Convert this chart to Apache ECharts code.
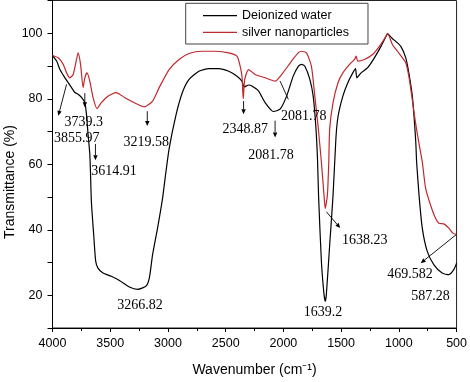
<!DOCTYPE html>
<html><head><meta charset="utf-8">
<script src="https://cdn.jsdelivr.net/npm/echarts@6/dist/echarts.min.js"></script>
<style>html,body{margin:0;padding:0;background:#fff}#c{width:470px;height:382px}</style>
</head><body><div id="c"></div>
<script>
const seriesNames = ['Deionized water', 'silver nanoparticles'];

const waterWave = [4000,3964,3936,3907,3864,3835,3806,3778,3749,3720,3706,3692,3677,3672,3663,3643,3626,3606,3563,3491,3420,3334,3262,3190,3161,3133,3090,3047,3025,2990,2932,2875,2817,2732,2646,2560,2473,2402,2359,2340,2300,2273,2216,2158,2087,2029,1972,1915,1871,1843,1814,1771,1742,1720,1705,1695,1671,1648,1637,1628,1599,1570,1545,1527,1485,1442,1399,1375,1364,1327,1270,1212,1155,1112,1098,1055,1026,983,940,911,882,854,846,825,797,754,696,625,567,524,500];
const waterT    = [93.2,91.5,88.9,87.2,84.9,83.4,81.9,81.4,80.4,78.8,75.3,69.2,63.2,58.6,48.5,38.4,30.4,28.3,26.8,25.8,24.5,22.5,21.8,22.8,25.3,32.4,40.5,49.5,55.6,64.7,74.8,81.9,85.9,88.4,89.2,89.2,88.4,86.9,85.4,83.6,84.2,83.9,82.4,78.8,76.1,76.8,80.8,86.9,89.9,90.5,89.9,85.9,80.8,72,62,50,30.4,20.2,18.2,20.2,35.4,50.5,68,74.5,80.8,84.9,87.9,89.2,86.4,87.9,89.5,92.5,96,99,99.8,98.3,97.5,96,92.5,87.4,80.4,67.2,60.7,50.5,40.5,33.4,29.3,26.8,26.3,27.8,29.8];

const silverWave = [4000,3950,3907,3878,3850,3821,3792,3778,3757,3735,3720,3701,3677,3649,3615,3577,3520,3448,3377,3291,3205,3133,3076,2990,2904,2817,2703,2588,2473,2402,2382,2359,2348,2335,2302,2244,2158,2072,2015,1929,1872,1843,1800,1757,1728,1700,1690,1671,1648,1638,1619,1607,1599,1570,1527,1485,1427,1384,1370,1356,1298,1227,1169,1112,1098,1055,1012,969,940,911,882,854,825,797,768,725,682,653,610,567,530,500];
const silverT    = [93.2,92.5,90.5,87.9,86.4,87.4,92,94,90.5,83.4,86.4,87.9,85.4,80.4,77,78.8,80.8,81.9,80.4,78.8,77.5,79.3,83.4,88.9,92,93.8,94.5,94.5,94,93,91,86.9,80,85.9,88.9,87.4,86.4,85.4,87.4,91.5,94,94.5,94,89.9,80.8,71.8,68,60.7,50.5,46.5,50.5,60.7,70.8,78.8,84.9,87.9,90.5,92,93,91.5,92,93.5,96,99,100,96.5,94.5,92.5,91,86.4,79.3,72.3,66.2,60.7,52.6,47.5,43.5,42,41.8,40.5,38.9,38.6];

const xTickLabels = [4000,3500,3000,2500,2000,1500,1000,500];
const yTickLabels = [20,40,60,80,100];

const peakLabels    = ['3739.3','3855.97','3614.91','3219.58','2348.87','2081.78','2081.78','1638.23','469.582','587.28','3266.82','1639.2'];
const peakLabelWave = [3729,3789,3467,3187,2331,1824,2108,1295,904,725,3243,1656];
const peakLabelT    = [72.9,68.0,57.8,66.8,70.7,74.6,62.7,36.9,26.3,19.8,16.8,14.7];

const arrowFromWave = [3878,3720,3628,3179,2345,2072,2029,1628,500];
const arrowFromT    = [84.4,81.7,66.2,76.2,79.3,73.3,85.4,45.5,38.6];
const arrowToWave   = [3950,3720,3628,3179,2345,2072,1957,1508,811];
const arrowToT      = [74.8,77.4,61.2,71.7,75.3,68.2,79.8,40.5,29.8];
const arrowHasHead  = [true,true,true,true,true,true,false,true,true];

const zip = (a, b) => a.map((v, i) => [v, b[i]]);
const sans = '"Liberation Sans", Arial, sans-serif';
const serif = '"Liberation Serif", "Times New Roman", serif';

const chart = echarts.init(document.getElementById('c'), null, {renderer: 'canvas'});
chart.setOption({
  animation: false,
  backgroundColor: '#fff',
  grid: {left: 52.5, right: 10.5, top: 0.5, bottom: 51.3, show: true, borderColor: '#222', borderWidth: 1, backgroundColor: 'transparent'},
  legend: {
    data: seriesNames, orient: 'vertical', left: 185.7, top: 3.3,
    icon: 'rect', itemWidth: 34, itemHeight: 1.3, itemGap: 2.6, itemTextGap: 3,
    padding: [5.4, 19, 4.7, 17.3], borderColor: '#444', borderWidth: 1,
    textStyle: {fontSize: 12.5, lineHeight: 14, color: '#000', fontFamily: sans}
  },
  xAxis: {
    type: 'value', inverse: true, min: 500, max: 4000, interval: 500,
    axisLine: {show: true, onZero: false, lineStyle: {color: '#000', width: 1}},
    axisTick: {show: true, inside: false, length: 4, lineStyle: {color: '#000'}},
    minorTick: {show: true, splitNumber: 2, length: 3, lineStyle: {color: '#000'}},
    splitLine: {show: false},
    axisLabel: {color: '#000', fontSize: 12.5, fontFamily: sans, margin: 9,
      formatter: v => xTickLabels.includes(v) ? String(v) : ''},
    name: 'Wavenumber (cm\u207B\u00B9)', nameLocation: 'middle', nameGap: 35,
    nameTextStyle: {color: '#000', fontSize: 14, fontFamily: sans}
  },
  yAxis: {
    type: 'value', min: 10, max: 110, interval: 10,
    axisLine: {show: true, onZero: false, lineStyle: {color: '#000', width: 1}},
    axisTick: {show: true, inside: false, length: 5, lineStyle: {color: '#000'}},
    splitLine: {show: false},
    axisLabel: {color: '#000', fontSize: 12.5, fontFamily: sans, margin: 10,
      formatter: v => yTickLabels.includes(v) ? String(v) : ''}
  },
  series: [
    {name: seriesNames[0], type: 'line', data: zip(waterWave, waterT), symbol: 'none', showSymbol: false,
     smooth: 0.2, lineStyle: {color: '#000', width: 1.2}, itemStyle: {color: '#000'}, z: 2},
    {name: seriesNames[1], type: 'line', data: zip(silverWave, silverT), symbol: 'none', showSymbol: false,
     smooth: 0.2, lineStyle: {color: '#c0282d', width: 1.2}, itemStyle: {color: '#c0282d'}, z: 3}
  ]
});

const px = (w, t) => chart.convertToPixel({xAxisIndex: 0, yAxisIndex: 0}, [w, t]);
const g = [];
g.push({type: 'text', x: 10, y: 182, rotation: Math.PI / 2,
  style: {text: 'Transmittance (%)', fill: '#000', font: '14px ' + sans, align: 'center', verticalAlign: 'middle'}});
peakLabels.forEach((s, i) => {
  const p = px(peakLabelWave[i], peakLabelT[i]);
  g.push({type: 'text', x: p[0], y: p[1], z: 100,
    style: {text: s, fill: '#000', font: '14px ' + serif, align: 'center', verticalAlign: 'middle'}});
});
arrowFromWave.forEach((w, i) => {
  const a = px(w, arrowFromT[i]);
  const b = px(arrowToWave[i], arrowToT[i]);
  const dx = b[0] - a[0], dy = b[1] - a[1];
  const L = Math.hypot(dx, dy), ux = dx / L, uy = dy / L;
  const hl = arrowHasHead[i] ? 5 : 0, hw = 2.2;
  g.push({type: 'line', z: 100, shape: {x1: a[0], y1: a[1], x2: b[0] - ux * hl, y2: b[1] - uy * hl},
    style: {stroke: '#000', lineWidth: 0.9}});
  if (arrowHasHead[i]) {
    const bx = b[0] - ux * hl, by = b[1] - uy * hl;
    g.push({type: 'polygon', z: 100, shape: {points: [[b[0], b[1]], [bx - uy * hw, by + ux * hw], [bx + uy * hw, by - ux * hw]]},
      style: {fill: '#000'}});
  }
});
chart.setOption({graphic: g});
</script></body></html>
